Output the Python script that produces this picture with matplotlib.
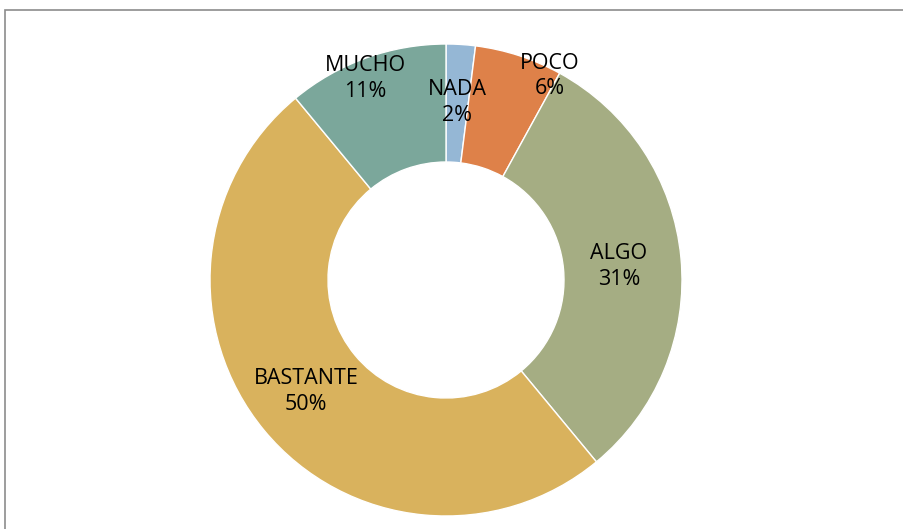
import numpy as np
import matplotlib
matplotlib.use("Agg")
import matplotlib.pyplot as plt
from matplotlib.patches import Rectangle

categories = ["NADA", "POCO", "ALGO", "BASTANTE", "MUCHO"]
percent = [2, 6, 31, 50, 11]
colors = ["#95B7D5", "#DE8149", "#A5AD83", "#D9B25D", "#7BA79B"]

# label placement tweaks (radius as fraction, angle shift in degrees)
lab_r = [0.755, 0.97, 0.735, 0.76, 0.92]
lab_shift = [0, -9, -1, -1, 2]

plt.rcParams['font.family'] = ['Open Sans', 'DejaVu Sans']

fig = plt.figure(figsize=(9.04, 5.29), dpi=100)
ax = fig.add_axes([210 / 904, 13 / 529, 472 / 904, 472 / 529])

wedges, _ = ax.pie(percent, colors=colors, startangle=90, counterclock=False,
                   radius=1.0, wedgeprops=dict(width=0.5, edgecolor="white", linewidth=1))

for w, name, p, r, sh in zip(wedges, categories, percent, lab_r, lab_shift):
    ang = np.deg2rad((w.theta1 + w.theta2) / 2 + sh)
    ax.text(r * np.cos(ang), r * np.sin(ang), f"{name}\n{p}%", ha="center", va="center",
            fontsize=15.5, color="black", linespacing=1.3)

ax.set_xlim(-1, 1)
ax.set_ylim(-1, 1)
ax.set_aspect("equal")
ax.axis("off")

# chart frame, cut by the image edge
fig.patches.append(Rectangle((5.5 / 904, -0.1), 1.2, 1 - 9.5 / 529 + 0.1,
                             transform=fig.transFigure, fill=False,
                             edgecolor="#8C8C8C", linewidth=1.2))

fig.savefig("out.png", dpi=100)
